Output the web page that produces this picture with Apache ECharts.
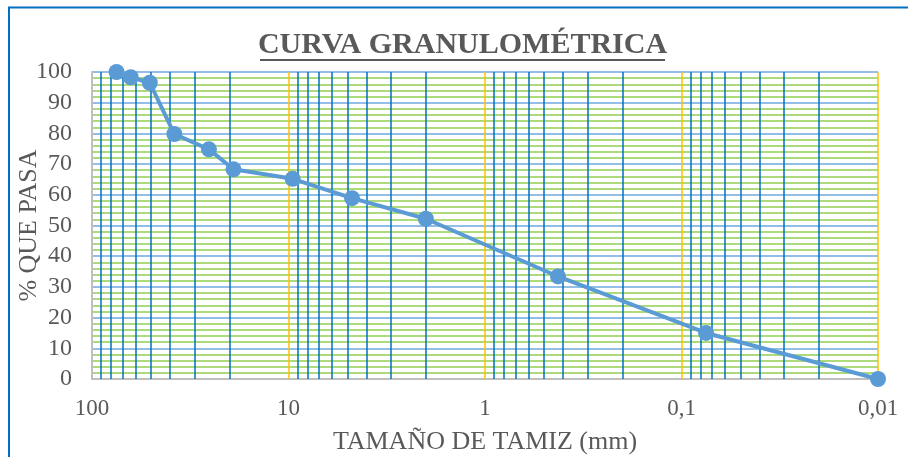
<!DOCTYPE html>
<html><head><meta charset="utf-8">
<script src="https://cdn.jsdelivr.net/npm/echarts@6/dist/echarts.min.js"></script>
<style>html,body{margin:0;padding:0;background:#fff}#c{width:908px;height:457px}</style>
</head><body><div id="c"></div>
<script>
// Sieve openings (mm) and cumulative % passing
const sieveSizes = [75, 63.5, 50.8, 38.1, 25.4, 19.05, 9.525, 4.75, 2.0, 0.425, 0.075, 0.01];
const percentPassing = [100, 98.3, 96.5, 79.8, 74.8, 68.3, 65.2, 58.9, 52.2, 33.4, 15.0, 0];
// Vertical log grid lines
const decadeLines = [10, 1, 0.1, 0.01];
const minorLines = [90, 80, 70, 60, 50, 40, 30, 20,
                    9, 8, 7, 6, 5, 4, 3, 2,
                    0.9, 0.8, 0.7, 0.6, 0.5, 0.4, 0.3, 0.2,
                    0.09, 0.08, 0.07, 0.06, 0.05, 0.04, 0.03, 0.02];
const titleText = 'CURVA GRANULOMÉTRICA';
const xName = 'TAMAÑO DE TAMIZ (mm)';
const yName = '% QUE PASA';

const FONT = 'Liberation Serif';
const TXT = '#595959';

const chart = echarts.init(document.getElementById('c'), null, {renderer: 'canvas'});

const vData = minorLines.map(v => ({xAxis: v, lineStyle: {color: '#0070C0', width: 1.5, type: 'solid'}}))
  .concat(decadeLines.map(v => ({xAxis: v, lineStyle: {color: '#FFC000', width: 1.5, type: 'solid'}})));

chart.setOption({
  animation: false,
  backgroundColor: '#fff',
  title: {text: titleText, left: 462.5, textAlign: 'center', top: 30, padding: 0,
    textStyle: {fontFamily: FONT, fontWeight: 'bold', fontSize: 30, color: TXT}},
  grid: {left: 92, right: 30, top: 72, bottom: 78, containLabel: false, outerBoundsMode: 'none'},
  graphic: [
    {type: 'rect', shape: {x: 9, y: 7.5, width: 1200, height: 800},
     style: {fill: 'none', stroke: '#0070C0', lineWidth: 2}, z: 0, silent: true},
    {type: 'rect', shape: {x: 260, y: 59, width: 405, height: 2}, style: {fill: TXT}, z: 10}
  ],
  xAxis: {
    type: 'log', logBase: 10, min: 0.01, max: 100, inverse: true,
    name: xName, nameLocation: 'middle', nameGap: 50, nameMoveOverlap: false,
    nameTextStyle: {fontFamily: FONT, fontSize: 26, color: TXT},
    axisLine: {show: true, lineStyle: {color: '#BFBFBF', width: 2}},
    axisTick: {show: false},
    splitLine: {show: false},
    axisLabel: {fontFamily: FONT, fontSize: 23, color: TXT, margin: 18,
      formatter: v => String(+(+v).toPrecision(4)).replace('.', ',')}
  },
  yAxis: {
    type: 'value', min: 0, max: 100, interval: 10,
    name: yName, nameLocation: 'middle', nameGap: 50, nameMoveOverlap: false,
    nameTextStyle: {fontFamily: FONT, fontSize: 26, color: TXT},
    axisLine: {show: true, lineStyle: {color: '#BFBFBF', width: 2}},
    axisTick: {show: false},
    axisLabel: {fontFamily: FONT, fontSize: 24, color: TXT, margin: 20},
    splitLine: {show: true, lineStyle: {color: '#6FA8DC', width: 1.5}},
    minorTick: {show: false, splitNumber: 5},
    minorSplitLine: {show: true, lineStyle: {color: '#92D050', width: 1.5}}
  },
  series: [
    {type: 'line', data: [], silent: true, z: 1,
     markLine: {silent: true, symbol: ['none', 'none'], label: {show: false}, animation: false, data: vData}},
    {type: 'line', z: 5,
     data: sieveSizes.map((s, i) => [s, percentPassing[i]]),
     lineStyle: {color: '#5B9BD5', width: 4},
     itemStyle: {color: '#5B9BD5'},
     symbol: 'circle', symbolSize: 16, showSymbol: true}
  ]
});
</script></body></html>
